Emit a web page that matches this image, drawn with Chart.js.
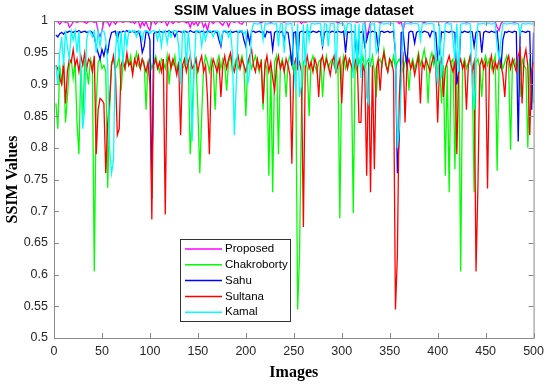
<!DOCTYPE html>
<html>
<head>
<meta charset="utf-8">
<script src="https://cdn.jsdelivr.net/npm/chart.js@4"></script>
<style>
  body { margin: 0; background: #fff; }
  canvas { display: block; }
</style>
</head>
<body>
<canvas id="ssimChart" width="550" height="385"></canvas>
<script>
// SSIM per image, sampled every 2nd image (2, 4, ... 500)
const proposed = [
  .999,.999,.995,.999,.999,.998,.999,.990,.993,.999,.999,.998,.999,.999,.999,.998,.996,.999,.999,.999,.998,.999,.983,.975,.985,
  .999,.999,.998,.992,.999,.999,.995,.999,.999,.999,.998,.999,.999,.999,.998,.999,.996,.999,.999,.990,.999,.993,.999,.990,.985,
  .999,.999,.995,.999,.999,.998,.999,.999,.993,.999,.999,.996,.999,.999,.998,.999,.999,.999,.997,.999,.990,.999,.994,.999,.993,
  .999,.999,.990,.996,.985,.999,.999,.996,.999,.999,.999,.996,.993,.999,.999,.991,.999,.999,.998,.999,.999,.996,.995,.999,.999,
  .999,.999,.999,.999,.999,.999,.999,.997,.999,.999,.999,.999,.998,.999,.999,.999,.999,.999,.999,.998,.999,.999,.999,.999,.999,
  .999,.999,.999,.996,.999,.998,.999,.999,.999,.999,.999,.999,.999,.999,.999,.999,.999,.999,.999,.999,.999,.999,.997,.999,.999,
  .999,.999,.999,.999,.999,.999,.999,.998,.999,.999,.999,.999,.975,.985,.999,.999,.999,.999,.999,.997,.999,.999,.999,.999,.999,
  .999,.999,.999,.999,.996,.999,.985,.999,.999,.999,.998,.999,.999,.999,.999,.999,.999,.997,.999,.999,.999,.999,.999,.999,.999,
  .999,.999,.999,.999,.998,.999,.999,.999,.999,.999,.999,.999,.999,.999,.998,.999,.999,.999,.999,.999,.999,.999,.999,.999,.999,
  .999,.999,.999,.999,.999,.990,.985,.996,.999,.999,.999,.999,.999,.999,.998,.999,.999,.999,.999,.999,.999,.999,.999,.999,.999
];
const chakroborty = [
  .87,.83,.93,.90,.935,.84,.88,.93,.94,.91,.935,.84,.79,.93,.84,.935,.925,.90,.94,.93,.605,.87,.935,.94,.925,
  .93,.92,.737,.86,.935,.94,.925,.93,.945,.89,.935,.925,.94,.93,.945,.92,.935,.95,.93,.925,.94,.935,.86,.93,.94,
  .925,.935,.945,.93,.92,.94,.935,.925,.945,.90,.935,.93,.945,.92,.935,.94,.925,.93,.945,.935,.79,.85,.93,.94,.86,
  .76,.85,.93,.945,.935,.92,.94,.93,.86,.935,.945,.925,.94,.93,.89,.935,.945,.92,.93,.94,.925,.935,.945,.93,.85,
  .93,.94,.925,.935,.945,.93,.92,.94,.86,.935,.925,.756,.93,.73,.935,.945,.79,.93,.94,.925,.88,.935,.945,.93,.92,
  .935,.545,.63,.86,.935,.94,.925,.85,.935,.945,.93,.92,.935,.94,.88,.93,.945,.925,.935,.94,.93,.92,.935,.689,.93,
  .945,.925,.935,.94,.93,.697,.935,.92,.94,.93,.945,.925,.935,.94,.93,.945,.92,.88,.935,.94,.93,.955,.935,.92,.94,
  .93,.945,.925,.935,.94,.93,.92,.935,.945,.89,.93,.94,.925,.935,.95,.93,.94,.955,.935,.87,.94,.95,.93,.945,.92,
  .935,.87,.93,.756,.93,.73,.935,.94,.766,.93,.945,.605,.93,.94,.925,.935,.945,.93,.73,.935,.94,.925,.88,.935,.945,
  .93,.94,.925,.935,.945,.764,.93,.94,.925,.935,.945,.93,.797,.935,.94,.925,.935,.88,.94,.93,.925,.80,.935,.92,.87
];
const sahu = [
  .978,.975,.98,.982,.979,.983,.982,.984,.983,.982,.984,.983,.985,.982,.983,.984,.982,.983,.984,.982,.975,.96,.95,.94,.955,
  .945,.96,.95,.97,.982,.983,.984,.97,.983,.982,.984,.983,.985,.982,.983,.984,.982,.983,.984,.975,.95,.96,.983,.982,.97,
  .72,.98,.983,.982,.984,.983,.982,.984,.983,.985,.982,.983,.975,.982,.984,.983,.982,.984,.983,.982,.985,.983,.982,.984,.983,
  .982,.984,.983,.982,.984,.983,.982,.984,.983,.982,.97,.96,.983,.984,.982,.983,.984,.982,.983,.984,.982,.983,.984,.97,.96,
  .982,.965,.983,.984,.982,.983,.984,.982,.983,.975,.984,.982,.983,.955,.982,.984,.983,.982,.984,.97,.983,.982,.96,.93,.982,
  .983,.93,.982,.984,.983,.982,.984,.983,.982,.984,.983,.982,.984,.983,.96,.982,.984,.983,.982,.984,.983,.982,.984,.983,.982,
  .984,.95,.983,.982,.984,.983,.982,.93,.983,.982,.984,.96,.97,.983,.982,.984,.983,.982,.955,.983,.984,.982,.983,.984,.982,
  .983,.984,.95,.76,.82,.982,.983,.95,.93,.982,.984,.983,.965,.982,.984,.983,.982,.984,.983,.982,.975,.984,.983,.982,.94,
  .95,.983,.982,.984,.983,.982,.984,.983,.982,.90,.92,.983,.982,.984,.983,.982,.984,.983,.96,.982,.984,.983,.95,.982,.984,
  .983,.982,.984,.983,.982,.984,.95,.925,.97,.983,.982,.984,.983,.982,.984,.983,.81,.982,.984,.983,.982,.984,.983,.86,.982
];
const sultana = [
  .93,.925,.91,.90,.935,.87,.92,.94,.935,.955,.93,.94,.92,.945,.93,.95,.925,.94,.935,.92,.945,.79,.86,.878,.875,
  .87,.76,.84,.875,.93,.945,.92,.82,.83,.93,.94,.925,.95,.93,.935,.915,.94,.93,.945,.925,.94,.93,.92,.935,.90,
  .687,.93,.94,.925,.935,.92,.94,.695,.93,.945,.925,.94,.93,.915,.935,.82,.93,.94,.92,.935,.945,.925,.93,.94,.92,
  .935,.945,.92,.93,.88,.79,.925,.94,.93,.92,.935,.88,.93,.945,.925,.94,.95,.93,.92,.935,.945,.925,.94,.93,.92,
  .935,.945,.955,.93,.92,.94,.925,.935,.87,.93,.945,.92,.935,.91,.89,.93,.945,.925,.935,.92,.94,.93,.915,.775,.93,
  .94,.925,.935,.92,.675,.93,.945,.925,.935,.92,.94,.93,.88,.935,.945,.925,.94,.93,.915,.935,.945,.92,.93,.94,.87,
  .935,.945,.925,.94,.93,.92,.935,.945,.84,.84,.93,.92,.756,.935,.73,.93,.766,.925,.94,.89,.935,.95,.93,.92,.94,
  .935,.92,.545,.63,.88,.93,.945,.84,.93,.94,.925,.935,.915,.93,.945,.87,.935,.925,.94,.93,.92,.935,.945,.93,.84,
  .93,.94,.88,.925,.935,.945,.93,.92,.935,.79,.93,.94,.925,.935,.86,.93,.945,.92,.935,.605,.74,.93,.94,.925,.935,
  .736,.93,.945,.92,.935,.925,.94,.93,.915,.88,.935,.945,.925,.94,.93,.92,.945,.955,.87,.94,.955,.93,.82,.92,.935
];
const kamal = [
  .93,.90,.95,.975,.93,.985,.96,.94,.984,.97,.984,.95,.984,.92,.83,.86,.97,.984,.983,.975,.984,.95,.984,.96,.984,
  .984,.97,.93,.80,.76,.78,.95,.984,.94,.984,.93,.984,.96,.985,.984,.983,.985,.975,.984,.984,.97,.984,.985,.984,.98,
  .984,.985,.983,.97,.984,.96,.984,.985,.965,.984,.975,.984,.985,.984,.96,.90,.984,.985,.93,.984,.95,.81,.92,.984,.985,
  .984,.96,.984,.97,.984,.985,.984,.975,.985,.984,.983,.965,.984,.985,.984,.975,.984,.95,.82,.90,.984,.985,.984,.98,.984,
  .90,.92,.985,.996,.996,.995,.996,.996,.97,.996,.995,.996,.996,.996,.995,.996,.96,.996,.996,.95,.996,.995,.996,.996,.93,
  .89,.996,.88,.90,.995,.93,.996,.97,.996,.996,.995,.996,.996,.996,.96,.996,.995,.96,.996,.996,.996,.92,.995,.996,.996,
  .996,.98,.996,.996,.995,.91,.996,.93,.996,.91,.996,.995,.88,.87,.996,.995,.996,.95,.96,.996,.996,.995,.996,.996,.995,
  .996,.996,.95,.80,.83,.90,.996,.995,.996,.996,.995,.996,.996,.996,.995,.97,.996,.996,.995,.996,.996,.996,.995,.93,.90,
  .996,.91,.95,.996,.996,.995,.996,.97,.94,.996,.92,.995,.996,.996,.995,.996,.996,.90,.86,.95,.996,.995,.996,.996,.995,
  .996,.996,.995,.996,.996,.96,.94,.97,.996,.996,.995,.996,.996,.996,.995,.996,.996,.98,.996,.996,.995,.996,.996,.995,.996
];

const images = proposed.map((_, i) => 2 * i + 2); // image index for each sample
const xTicks = [0, 50, 100, 150, 200, 250, 300, 350, 400, 450, 500];
const yTicks = [0.5, 0.55, 0.6, 0.65, 0.7, 0.75, 0.8, 0.85, 0.9, 0.95, 1];

const series = [
  { label: 'Proposed', values: proposed, color: '#ff00ff', order: 5 },
  { label: 'Chakroborty', values: chakroborty, color: '#00ff00', order: 4 },
  { label: 'Sahu', values: sahu, color: '#0000ff', order: 3 },
  { label: 'Sultana', values: sultana, color: '#ff0000', order: 2 },
  { label: 'Kamal', values: kamal, color: '#00ffff', order: 1 }
];

const tickFont = { family: 'Liberation Sans, Arial, sans-serif', size: 12.5 };
const tickColor = '#262626';
const labelFont = { family: 'Liberation Serif, Times New Roman, serif', size: 16, weight: 'bold' };

// Draws the title, the MATLAB style box with inward ticks, and the legend
const matlabAxes = {
  id: 'matlabAxes',
  afterDatasetsDraw(chart) {
    const { ctx, chartArea: a, scales: { x, y } } = chart;
    ctx.save();

    // box
    ctx.strokeStyle = '#8a8a8a';
    ctx.lineWidth = 1;
    ctx.strokeRect(a.left + 0.5, a.top + 0.5, a.right - a.left, a.bottom - a.top);

    // inward tick marks on all four sides
    ctx.beginPath();
    xTicks.forEach(v => {
      const px = Math.round(x.getPixelForValue(v)) + 0.5;
      ctx.moveTo(px, a.bottom); ctx.lineTo(px, a.bottom - 5);
      ctx.moveTo(px, a.top); ctx.lineTo(px, a.top + 5);
    });
    yTicks.forEach(v => {
      const py = Math.round(y.getPixelForValue(v)) + 0.5;
      ctx.moveTo(a.left, py); ctx.lineTo(a.left + 5, py);
      ctx.moveTo(a.right, py); ctx.lineTo(a.right - 5, py);
    });
    ctx.stroke();

    // title, centred over the axes
    ctx.fillStyle = '#000';
    ctx.font = 'bold 14px "Liberation Sans", Arial, sans-serif';
    ctx.textAlign = 'center';
    ctx.textBaseline = 'alphabetic';
    ctx.fillText('SSIM Values in BOSS image dataset', (a.left + a.right) / 2, 15);

    // legend box inside the axes
    const lx = 180.5, ly = 239.5, lw = 110, lh = 82;
    ctx.fillStyle = '#fff';
    ctx.fillRect(lx, ly, lw, lh);
    ctx.strokeStyle = '#333';
    ctx.strokeRect(lx, ly, lw, lh);
    ctx.font = '11.5px "Liberation Sans", Arial, sans-serif';
    ctx.textAlign = 'left';
    ctx.textBaseline = 'middle';
    chart.data.datasets.forEach((ds, i) => {
      const ry = 249 + i * 15.8;
      ctx.strokeStyle = ds.borderColor;
      ctx.lineWidth = 1.5;
      ctx.beginPath();
      ctx.moveTo(185, ry); ctx.lineTo(222, ry);
      ctx.stroke();
      ctx.fillStyle = '#000';
      ctx.fillText(ds.label, 225, ry);
    });
    ctx.restore();
  }
};

function createChart() {
  const ctx = document.getElementById('ssimChart').getContext('2d');
  return new Chart(ctx, {
    type: 'line',
    data: {
      datasets: series.map(s => ({
        label: s.label,
        data: s.values.map((v, i) => ({ x: images[i], y: v })),
        borderColor: s.color,
        backgroundColor: s.color,
        borderWidth: 1.3,
        pointRadius: 0,
        tension: 0,
        order: s.order
      }))
    },
    options: {
      responsive: false,
      animation: false,
      devicePixelRatio: 1,
      layout: { padding: { top: 21, right: 13, left: 0, bottom: 0 } },
      plugins: {
        legend: { display: false },
        title: { display: false },
        tooltip: { enabled: false }
      },
      scales: {
        x: {
          type: 'linear',
          min: 0,
          max: 500,
          afterBuildTicks: s => { s.ticks = xTicks.map(v => ({ value: v })); },
          afterFit: s => { s.height = 47; },
          grid: { display: false, drawTicks: false },
          border: { display: false },
          ticks: { font: tickFont, color: tickColor, padding: 6, maxRotation: 0,
                   callback: v => String(v) },
          title: {
            display: true,
            text: 'Images',
            color: '#000',
            font: labelFont,
            padding: { top: 0, bottom: 3 }
          }
        },
        y: {
          min: 0.5,
          max: 1,
          afterBuildTicks: s => { s.ticks = yTicks.map(v => ({ value: v })); },
          afterFit: s => { s.width = 54; },
          grid: { display: false, drawTicks: false },
          border: { display: false },
          ticks: { font: tickFont, color: tickColor, padding: 6,
                   callback: v => String(+v.toFixed(2)) },
          title: {
            display: true,
            text: 'SSIM Values',
            color: '#000',
            font: labelFont,
            padding: { top: 3, bottom: 4 }
          }
        }
      }
    },
    plugins: [matlabAxes]
  });
}

createChart();
</script>
</body>
</html>
